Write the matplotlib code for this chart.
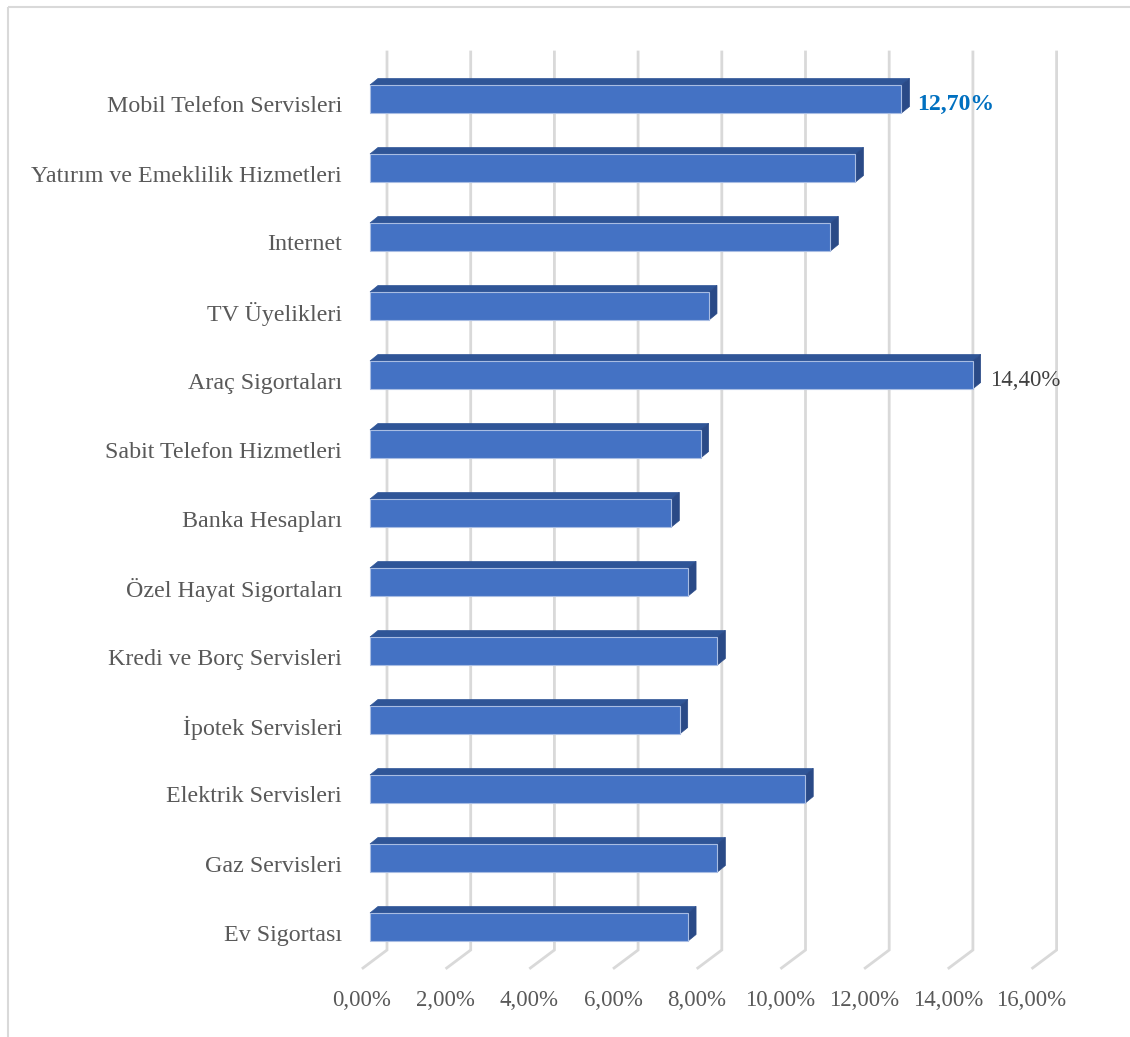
import matplotlib.pyplot as plt
from matplotlib.patches import Polygon, Rectangle

# share of complaints by service sector (%)
categories = [
    "Mobil Telefon Servisleri",
    "Yatırım ve Emeklilik Hizmetleri",
    "Internet",
    "TV Üyelikleri",
    "Araç Sigortaları",
    "Sabit Telefon Hizmetleri",
    "Banka Hesapları",
    "Özel Hayat Sigortaları",
    "Kredi ve Borç Servisleri",
    "İpotek Servisleri",
    "Elektrik Servisleri",
    "Gaz Servisleri",
    "Ev Sigortası",
]
values = [12.7, 11.6, 11.0, 8.1, 14.4, 7.9, 7.2, 7.6, 8.3, 7.4, 10.4, 8.3, 7.6]
ticks = [0, 2, 4, 6, 8, 10, 12, 14, 16]
tick_labels = ["0,00%", "2,00%", "4,00%", "6,00%", "8,00%",
               "10,00%", "12,00%", "14,00%", "16,00%"]
labelled = {0: "12,70%", 4: "14,40%"}

W, H = 1130, 1037
fig = plt.figure(figsize=(W / 100, H / 100), dpi=100)
ax = fig.add_axes([0, 0, 1, 1])
ax.set_axis_off()

# pixel layout -> data units (x in %, y in category rows)
x0_px, px_per_pct = 370, 41.85
y0_px, px_per_row = 99, 69
ax.set_xlim(-x0_px / px_per_pct, (W - x0_px) / px_per_pct)
ax.set_ylim((H - y0_px) / px_per_row, -y0_px / px_per_row)


def dx(px):
    return px / px_per_pct


def dy(px):
    return px / px_per_row


serif = ["Liberation Serif", "DejaVu Serif"]
text_color = "#595959"
grid_color = "#d9d9d9"

# outer chart frame
ax.add_patch(Rectangle((dx(8 - x0_px), dy(7 - y0_px)), dx(W + 20), dy(H + 20),
                       fill=False, ec="#d9d9d9", lw=1.5, zorder=0))

# back-wall gridlines bending onto the floor
wall_top = dy(52 - y0_px)
floor_back = dy(950 - y0_px)
floor_front = dy(968 - y0_px)
for t in ticks:
    xb = t + dx(17)
    xf = t - dx(7)
    ax.plot([xb, xb, xf], [wall_top, floor_back, floor_front],
            color=grid_color, lw=2, zorder=1, solid_joinstyle="miter")

# 3D bars
bar_h = dy(28)
ddx, ddy = dx(8), -dy(6.5)
front_c, top_c, side_c = "#4472c4", "#2f5597", "#2a4a87"
for i, v in enumerate(values):
    top = i - bar_h / 2
    bot = i + bar_h / 2
    ax.add_patch(Polygon([(0, top), (ddx, top + ddy), (v + ddx, top + ddy), (v, top)],
                         closed=True, fc=top_c, ec=top_c, lw=0.5, zorder=3))
    ax.add_patch(Polygon([(v, top), (v + ddx, top + ddy), (v + ddx, bot + ddy), (v, bot)],
                         closed=True, fc=side_c, ec=side_c, lw=0.5, zorder=3))
    ax.add_patch(Rectangle((0, top), v, bar_h, fc=front_c, ec="#a9bde3",
                           lw=0.8, zorder=4))
    ax.text(dx(-28), i + dy(8), categories[i], ha="right", va="center",
            fontsize=17.3, color=text_color, family=serif)
    if i in labelled:
        if i == 0:
            ax.text(v + dx(16), i + dy(5), labelled[i], ha="left", va="center",
                    fontsize=17.1, color="#0070c0", fontweight="bold", family=serif)
        else:
            ax.text(v + dx(17), i + dy(5), labelled[i], ha="left", va="center",
                    fontsize=16.5, color="#404040", family=serif)

# value axis tick labels
for t, lab in zip(ticks, tick_labels):
    ax.text(t - dx(8), dy(1000 - y0_px), lab, ha="center", va="center",
            fontsize=16.5, color=text_color, family=serif)

fig.savefig("out.png", dpi=100)
